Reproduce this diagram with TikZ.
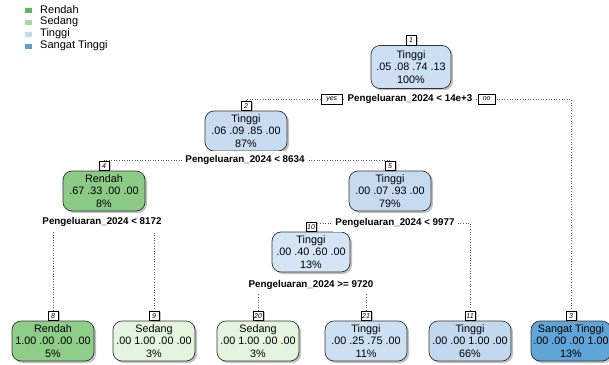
\documentclass[tikz,border=0pt]{standalone}
\usepackage{fontspec}
\setmainfont{Liberation Sans}
\usetikzlibrary{shadows}
\pgfdeclarelayer{bg}
\pgfsetlayers{bg,main}
\definecolor{cRendah}{HTML}{5DB860}
\definecolor{cSedang}{HTML}{A8D9A4}
\definecolor{cTinggi}{HTML}{C6D9EC}
\definecolor{cSangat}{HTML}{5AA0CF}
\definecolor{fA}{HTML}{CDE0F3}
\definecolor{fB}{HTML}{C8DCF1}
\definecolor{fC}{HTML}{C6DBF0}
\definecolor{fD}{HTML}{D4E5F5}
\definecolor{fE}{HTML}{C2D8EF}
\definecolor{fG4}{HTML}{8BCB85}
\definecolor{fG8}{HTML}{8ECE89}
\definecolor{fS}{HTML}{E3F4DF}
\definecolor{fST}{HTML}{5FA5D8}
\begin{document}
\begin{tikzpicture}[x=1pt,y=-1pt,
  box/.style={draw=black!80, line width=0.7pt, rounded corners=9pt,
    minimum width=82pt, minimum height=40pt, inner sep=0pt, align=center,
    font=\fontsize{10.8}{12.4}\selectfont,
    drop shadow={shadow xshift=2pt, shadow yshift=-2pt, fill=black!40, opacity=0.6}},
  numlab/.style={draw=black, fill=white, line width=0.5pt, inner sep=1pt,
    minimum width=10pt, minimum height=9.5pt,
    font=\fontsize{7}{7.5}\selectfont\itshape,
    drop shadow={shadow xshift=1.5pt, shadow yshift=-1.5pt, fill=black!40, opacity=0.6}},
  yn/.style={draw=black, fill=white, line width=0.5pt, inner xsep=5pt, inner ysep=1pt,
    minimum height=10pt, font=\fontsize{7}{7.5}\selectfont\itshape},
  split/.style={fill=white, inner xsep=2pt, inner ysep=4pt,
    font=\bfseries\fontsize{9.8}{11}\selectfont},
  edge/.style={dotted, line width=0.6pt, black!65},
  legsq/.style={minimum width=7pt, minimum height=5pt, inner sep=0pt},
  legtxt/.style={anchor=west, inner sep=0pt, font=\fontsize{11}{12}\selectfont}
]
\useasboundingbox (0,0) rectangle (609,364);

% legend
\node[legsq, fill=cRendah] (q1) at (28,10) {};
\node[legtxt] (t1) at (40,10) {Rendah};
\node[legsq, fill=cSedang] (q2) at (28,22) {};
\node[legtxt] (t2) at (40,22) {Sedang};
\node[legsq, fill=cTinggi] (q3) at (28,34) {};
\node[legtxt] (t3) at (40,34) {Tinggi};
\node[legsq, fill=cSangat] (q4) at (28,46) {};
\node[legtxt] (t4) at (40,46) {Sangat Tinggi};

% tree nodes
\node[box, fill=fA, minimum height=43pt, minimum width=80pt] (n1) at (411,67) {Tinggi\\.05 .08 .74 .13\\100\%};
\node[numlab, anchor=south] (l1) at (n1.north) {1};

\node[box, fill=fB] (n2) at (246,131) {Tinggi\\.06 .09 .85 .00\\87\%};
\node[numlab, anchor=south] (l2) at (n2.north) {2};

\node[box, fill=fG4] (n4) at (104,191) {Rendah\\.67 .33 .00 .00\\8\%};
\node[numlab, anchor=south] (l4) at (n4.north) {4};

\node[box, fill=fC] (n5) at (390,191) {Tinggi\\.00 .07 .93 .00\\79\%};
\node[numlab, anchor=south] (l5) at (n5.north) {5};

\node[box, fill=fD, minimum width=78pt] (n10) at (311,252) {Tinggi\\.00 .40 .60 .00\\13\%};
\node[numlab, anchor=south] (l10) at (n10.north) {10};

\node[box, fill=fG8] (n8) at (53,341) {Rendah\\1.00 .00 .00 .00\\5\%};
\node[numlab, anchor=south] (l8) at (n8.north) {8};

\node[box, fill=fS] (n9) at (154,341) {Sedang\\.00 1.00 .00 .00\\3\%};
\node[numlab, anchor=south] (l9) at (n9.north) {9};

\node[box, fill=fS] (n20) at (258,341) {Sedang\\.00 1.00 .00 .00\\3\%};
\node[numlab, anchor=south] (l20) at (n20.north) {20};

\node[box, fill=fA] (n21) at (366,341) {Tinggi\\.00 .25 .75 .00\\11\%};
\node[numlab, anchor=south] (l21) at (n21.north) {21};

\node[box, fill=fE] (n11) at (470,341) {Tinggi\\.00 .00 1.00 .00\\66\%};
\node[numlab, anchor=south] (l11) at (n11.north) {11};

\node[box, fill=fST, minimum width=80pt] (n3) at (571,341) {Sangat Tinggi\\.00 .00 .00 1.00\\13\%};
\node[numlab, anchor=south] (l3) at (n3.north) {3};

% split labels
\node[split] (s1) at (410,99) {Pengeluaran\_2024 < 14e+3};
\node[yn, anchor=east] (yes) at ([xshift=-3pt]s1.west) {yes};
\node[yn, anchor=west] (no) at ([xshift=3pt]s1.east) {no};
\node[split] (s2) at (245,160) {Pengeluaran\_2024 < 8634};
\node[split] (s4) at (102,222) {Pengeluaran\_2024 < 8172};
\node[split] (s5) at (395,223) {Pengeluaran\_2024 < 9977};
\node[split] (s10) at (311,285) {Pengeluaran\_2024 >= 9720};

% connectors
\begin{pgfonlayer}{bg}
\draw[edge] (l2.north) |- (s1.center) -| (l3.north);
\draw[edge] (l4.north) |- (s2.center) -| (l5.north);
\draw[edge] (l8.north) |- (s4.center) -| (l9.north);
\draw[edge] (l10.north) |- (s5.center) -| (l11.north);
\draw[edge] (l20.north) |- (s10.center) -| (l21.north);
\end{pgfonlayer}
\end{tikzpicture}
\end{document}
